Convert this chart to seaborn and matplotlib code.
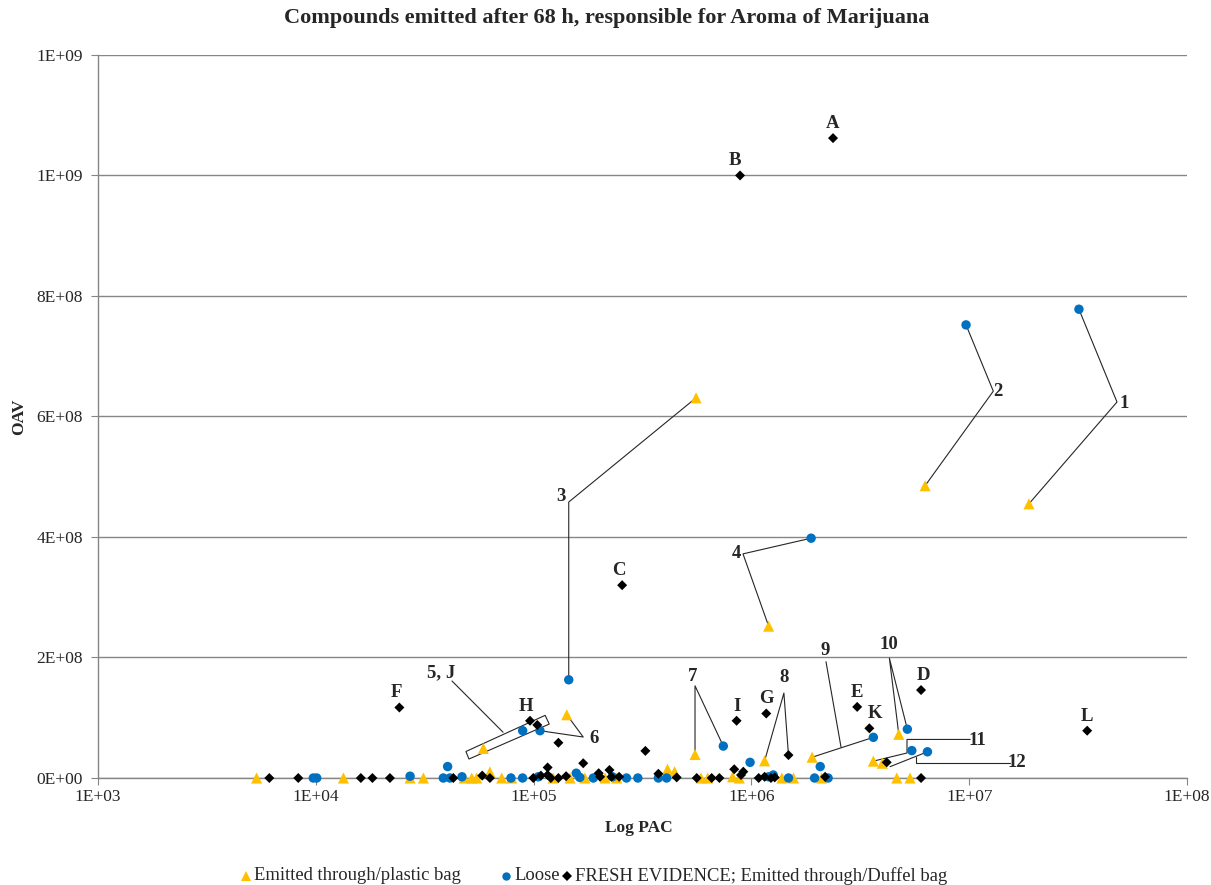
import matplotlib
matplotlib.use("Agg")
import matplotlib.pyplot as plt
from matplotlib.lines import Line2D
from matplotlib.patches import Polygon
from matplotlib.ticker import FuncFormatter, FixedLocator, NullLocator
import seaborn as sns
import pandas as pd

# ---- data: (PAC, OAV) per sample handling ----
plastic_pac = [5.35e3, 1.34e4, 2.71e4, 3.12e4, 4.8e4, 5.2e4, 5.48e4, 5.88e4, 6.3e4, 7.14e4,
               7.93e4, 1.23e5, 1.47e5, 1.42e5, 1.72e5, 2.13e5, 2.41e5, 4.12e5, 4.44e5, 5.57e5,
               5.51e5, 5.87e5, 6.3e5, 8.2e5, 8.8e5, 1.15e6, 1.2e6, 1.38e6, 1.56e6, 1.9e6,
               2.1e6, 3.63e6, 3.99e6, 4.65e6, 4.75e6, 5.35e6, 6.27e6, 1.88e7]
plastic_oav = [0, 0, 0, 0, 0, 0, 0, 4.9e7, 1.0e7, 0,
               0, 0, 0, 1.05e8, 0, 0, 0, 1.45e7, 1.05e7, 6.31e8,
               3.9e7, 0, 0, 2e6, 0, 2.85e7, 2.52e8, 0, 0, 3.45e7,
               0, 2.8e7, 2.45e7, 0, 7.25e7, 0, 4.85e8, 4.55e8]

loose_pac = [9.74e3, 1.01e4, 2.71e4, 3.85e4, 4.03e4, 4.13e4, 4.69e4, 7.87e4, 8.91e4, 8.9e4,
             1.05e5, 1.07e5, 1.45e5, 1.57e5, 1.63e5, 1.88e5, 2.3e5, 2.67e5, 3.01e5, 3.74e5,
             4.08e5, 7.43e5, 9.86e5, 1.2e6, 1.26e6, 1.48e6, 1.88e6, 1.95e6, 2.07e6, 2.25e6,
             3.63e6, 5.2e6, 5.45e6, 6.43e6, 9.67e6, 3.19e7]
loose_oav = [0, 0, 3e6, 0, 1.9e7, 0, 2e6, 0, 7.85e7, 0,
             2e6, 7.85e7, 1.63e8, 8e6, 1e6, 0, 2e6, 0, 0, 0,
             0, 5.3e7, 2.6e7, 2e6, 5e6, 0, 3.98e8, 0, 1.9e7, 0,
             6.75e7, 8.1e7, 4.55e7, 4.35e7, 7.52e8, 7.78e8]

duffel_pac = [6.12e3, 8.31e3, 1.61e4, 1.82e4, 2.19e4, 2.42e4, 4.28e4, 5.81e4, 6.3e4, 9.63e4,
              9.97e4, 1.04e5, 1.08e5, 1.16e5, 1.16e5, 1.2e5, 1.3e5, 1.3e5, 1.41e5, 1.69e5,
              1.99e5, 2.02e5, 2.23e5, 2.28e5, 2.47e5, 2.55e5, 3.26e5, 3.74e5, 4.54e5, 5.61e5,
              6.57e5, 7.13e5, 8.34e5, 8.55e5, 8.87e5, 8.96e5, 9.18e5, 1.08e6, 1.15e6, 1.17e6,
              1.23e6, 1.28e6, 1.48e6, 2.18e6, 2.37e6, 3.06e6, 3.48e6, 4.18e6, 6.01e6, 6.01e6,
              3.48e7]
duffel_oav = [0, 0, 0, 0, 0, 1.17e8, 0, 4e6, 0, 9.5e7,
              0, 8.8e7, 4e6, 1.75e7, 5e6, 0, 5.85e7, 0, 3e6, 2.45e7,
              8e6, 2e6, 1.33e7, 2e6, 2e6, 3.2e8, 4.5e7, 7e6, 1e6, 0,
              0, 0, 1.45e7, 9.5e7, 1.0e9, 5e6, 1.05e7, 0, 2e6, 1.07e8,
              0, 1e6, 3.8e7, 2e6, 1.062e9, 1.18e8, 8.25e7, 2.6e7, 1.46e8, 0,
              7.85e7]

series_names = ["Emitted through/plastic bag", "Loose",
                "FRESH EVIDENCE; Emitted through/Duffel bag"]
series_colors = ["#FFC000", "#0070C0", "#000000"]
series_markers = ["^", "o", "D"]
series_sizes = [64, 46, 26]

# letter labels: index into the duffel series
letter_labels = ["A", "B", "C", "D", "E", "F", "G", "H", "I", "K", "L"]
letter_index = [44, 34, 25, 48, 45, 5, 39, 9, 33, 46, 50]
letter_dx = [0, -4, -2, 2, 0, -2, 0, -3, 0, 4, 0]

# compound number labels (PAC, OAV position of the text)
number_labels = ["1", "2", "3", "4", "5, J", "6", "7", "8", "9", "10", "11", "12"]
number_pos = [(5.14e7, 6.21e8), (1.36e7, 6.41e8), (1.34e5, 4.68e8), (8.5e5, 3.72e8),
              (3.76e4, 1.74e8), (1.89e5, 6.6e7), (5.4e5, 1.68e8), (1.41e6, 1.66e8),
              (2.18e6, 2.12e8), (4.28e6, 2.21e8), (1.09e7, 6.3e7), (1.66e7, 2.5e7)]

sns.set_style("white")
plt.rcParams["font.family"] = ["Liberation Serif", "DejaVu Serif"]

frames = []
for name, xs, ys in zip(series_names, [plastic_pac, loose_pac, duffel_pac],
                        [plastic_oav, loose_oav, duffel_oav]):
    frames.append(pd.DataFrame({"PAC": xs, "OAV": ys, "series": name}))
df = pd.concat(frames, ignore_index=True)

fig = plt.figure(figsize=(12.11, 8.85), dpi=100)
ax = fig.add_axes([0.0809, 0.1209, 0.8993, 0.8170])

for name, color, marker, size in zip(series_names, series_colors, series_markers, series_sizes):
    sns.scatterplot(data=df[df["series"] == name], x="PAC", y="OAV", color=color,
                    marker=marker, s=size, linewidth=0, edgecolor="none",
                    ax=ax, legend=False, zorder=3, clip_on=False)

ax.set_xscale("log")
ax.set_xlim(1e3, 1e8)
ax.set_ylim(0, 1.2e9)
ax.xaxis.set_major_locator(FixedLocator([1e3, 1e4, 1e5, 1e6, 1e7, 1e8]))
ax.xaxis.set_minor_locator(NullLocator())
ax.yaxis.set_major_locator(FixedLocator([0, 2e8, 4e8, 6e8, 8e8, 1.0e9, 1.2e9]))
sci = FuncFormatter(lambda v, _: f"{v:.0E}")
ax.xaxis.set_major_formatter(sci)
ax.yaxis.set_major_formatter(sci)
ax.tick_params(axis="both", direction="out", length=5, width=0.8, color="#868686",
               labelsize=12.5, left=True, bottom=True)
ax.tick_params(axis="y", pad=6)
ax.tick_params(axis="x", pad=3)
ax.grid(axis="y", color="#868686", linewidth=1.0)
ax.grid(axis="x", visible=False)
ax.set_axisbelow(True)
for side in ["top", "right"]:
    ax.spines[side].set_visible(False)
for side in ["left", "bottom"]:
    ax.spines[side].set_color("#868686")
    ax.spines[side].set_linewidth(1.0)

ax.set_xlabel("Log PAC", fontsize=12.5, fontweight="bold")
ax.set_ylabel("OAV", fontsize=12.5, fontweight="bold")
ax.xaxis.label.set_va("center")
ax.yaxis.label.set_va("center")
ax.xaxis.set_label_coords(0.497, -0.069)
ax.yaxis.set_label_coords(-0.0725, 0.5)
fig.text(0.501, 0.980, "Compounds emitted after 68 h, responsible for Aroma of Marijuana",
         ha="center", va="center", fontsize=16, fontweight="bold")

pts = {"p": list(zip(plastic_pac, plastic_oav)),
       "l": list(zip(loose_pac, loose_oav)),
       "d": list(zip(duffel_pac, duffel_oav))}

# letter labels above their marks
for lab, idx, dx in zip(letter_labels, letter_index, letter_dx):
    ax.annotate(lab, xy=pts["d"][idx], xytext=(dx, 10.5), textcoords="offset points",
                ha="center", va="center", fontsize=13.5, fontweight="bold", zorder=5)

# number labels
for lab, (x, y) in zip(number_labels, number_pos):
    ax.text(x, y, lab, ha="center", va="center", fontsize=13.5, fontweight="bold", zorder=5)

# leader lines: each a polyline of (PAC, OAV) vertices
leaders = [
    [pts["l"][35], (4.77e7, 6.24e8), pts["p"][37]],
    [pts["l"][34], (1.29e7, 6.42e8), pts["p"][36]],
    [pts["p"][19], (1.45e5, 4.58e8), pts["l"][12]],
    [pts["l"][26], (9.15e5, 3.72e8), pts["p"][26]],
    [(4.22e4, 1.61e8), (7.24e4, 7.6e7)],
    [pts["l"][11], (1.69e5, 6.8e7), pts["p"][13]],
    [pts["p"][20], (5.51e5, 1.53e8), pts["l"][21]],
    [pts["p"][25], (1.41e6, 1.41e8), pts["d"][42]],
    [(2.2e6, 1.93e8), (2.58e6, 5.1e7)],
    [pts["p"][29], pts["l"][30]],
    [pts["p"][34], (4.3e6, 1.99e8), pts["l"][31]],
    [(1.01e7, 6.4e7), (5.18e6, 6.4e7), (5.18e6, 4.15e7), pts["p"][31]],
    [(1.54e7, 2.44e7), (5.7e6, 2.44e7), (5.7e6, 3.54e7)],
    [pts["l"][33], (4.33e6, 1.88e7)],
]
for line in leaders:
    xs, ys = zip(*line)
    ax.plot(xs, ys, color="#262626", linewidth=0.8, zorder=2)

# frame around the 5, J group
box = Polygon([(4.89e4, 4.4e7), (1.13e5, 1.04e8), (1.18e5, 8.95e7), (5.05e4, 3.15e7)],
              closed=True, fill=False, edgecolor="#262626", linewidth=0.8, zorder=2)
ax.add_patch(box)

# legend row along the bottom edge
legend_y = 1 - 876 / 885
legend_marker_x = [246 / 1211, 506 / 1211, 567 / 1211]
legend_text_x = [254 / 1211, 514 / 1211, 575 / 1211]
for m, c, ms, mx, tx, name in zip(series_markers, series_colors, [7, 6, 5],
                                  legend_marker_x, legend_text_x, series_names):
    fig.add_artist(Line2D([mx], [legend_y], transform=fig.transFigure, linestyle="none",
                          marker=m, color=c, markersize=ms, markeredgewidth=0))
    fig.text(tx, legend_y, name, ha="left", va="center", fontsize=13.4)

fig.savefig("out.png", dpi=100)
